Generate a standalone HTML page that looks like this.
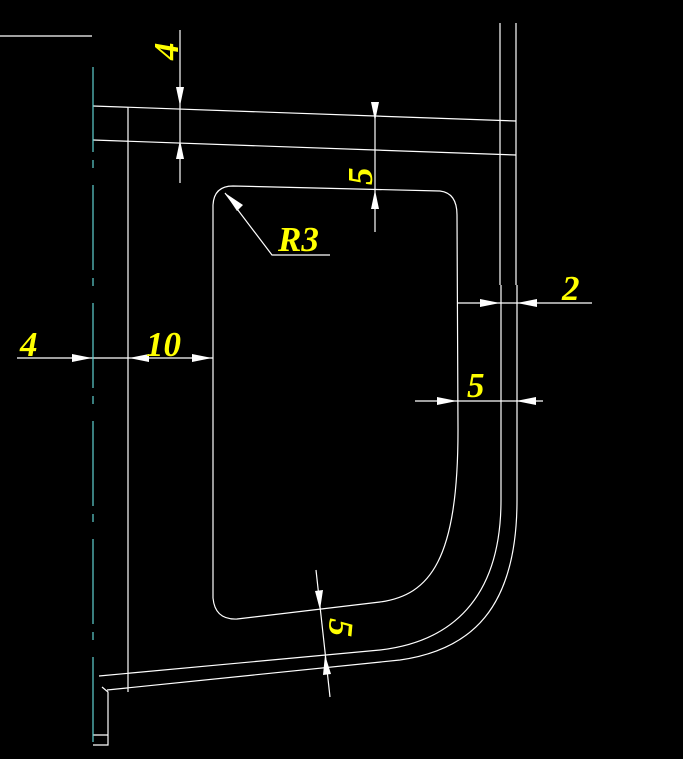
<!DOCTYPE html>
<html><head><meta charset="utf-8"><style>
html,body{margin:0;padding:0;background:#000;}
svg{display:block}
text{font-family:"Liberation Serif",serif;font-style:italic;font-weight:bold;fill:#ffff00;font-size:35px}
</style></head><body>
<svg width="683" height="759" viewBox="0 0 683 759" xmlns="http://www.w3.org/2000/svg">
<rect width="683" height="759" fill="#000"/>
<g stroke="#fff" stroke-width="1.2" fill="none">
<line x1="0" y1="36" x2="92" y2="36"/>
<line x1="93" y1="106" x2="516" y2="121"/>
<line x1="93" y1="140" x2="516" y2="155"/>
<line x1="128" y1="107" x2="128" y2="692"/>
<line x1="500" y1="23" x2="500" y2="285"/>
<line x1="516" y1="23" x2="516" y2="285"/>
<path d="M99 676 L380 650 C450 642 501 600 501 500 L501 285"/>
<path d="M107 690 L400 660 C470 650 517 610 517 500 L517 285"/>
<path d="M102 687 L108 692 L108 745 L93 745 M93 735 L108 735"/>
<path d="M213 598 L213 205 Q214 186 233 186 L440 191 Q457 193 457 215 L458 430 C458 560 430 595 380 602 L237 619 Q215 620 213 598 Z"/>
<line x1="180" y1="30" x2="180" y2="183"/>
<line x1="375" y1="105" x2="375" y2="232"/>
<path d="M225 193 L272 255 L330 255"/>
<line x1="17" y1="358" x2="213" y2="358"/>
<line x1="457" y1="303" x2="592" y2="303"/>
<line x1="415" y1="401" x2="543" y2="401"/>
<line x1="316" y1="570" x2="330" y2="697"/>
</g>
<line x1="93" y1="59" x2="93" y2="745" stroke="#5fd0d0" stroke-width="1.2" stroke-dasharray="85 8 8 17" stroke-dashoffset="110"/>
<g fill="#fff">
<polygon points="180,106 176,87 184,87"/>
<polygon points="180,140 176,159 184,159"/>
<polygon points="375,121 371,102 379,102"/>
<polygon points="375,190 371,209 379,209"/>
<polygon points="225,193 243,205 237,211"/>
<polygon points="92,358 72,354 72,362"/>
<polygon points="129,358 149,354 149,362"/>
<polygon points="212,358 192,354 192,362"/>
<polygon points="500,303 480,299 480,307"/>
<polygon points="517,303 537,299 537,307"/>
<polygon points="457,401 437,397 437,405"/>
<polygon points="516,401 536,397 536,405"/>
<polygon points="320,610 315,591 323,590"/>
<polygon points="325,655 323,675 331,674"/>
</g>
<text x="20" y="356">4</text>
<text x="146" y="356">10</text>
<text x="278" y="251">R3</text>
<text x="562" y="300">2</text>
<text x="467" y="397">5</text>
<text transform="translate(178,60) rotate(-90)">4</text>
<text transform="translate(372,185) rotate(-90)">5</text>
<text transform="translate(330,618) rotate(95)">5</text>
</svg>
</body></html>
